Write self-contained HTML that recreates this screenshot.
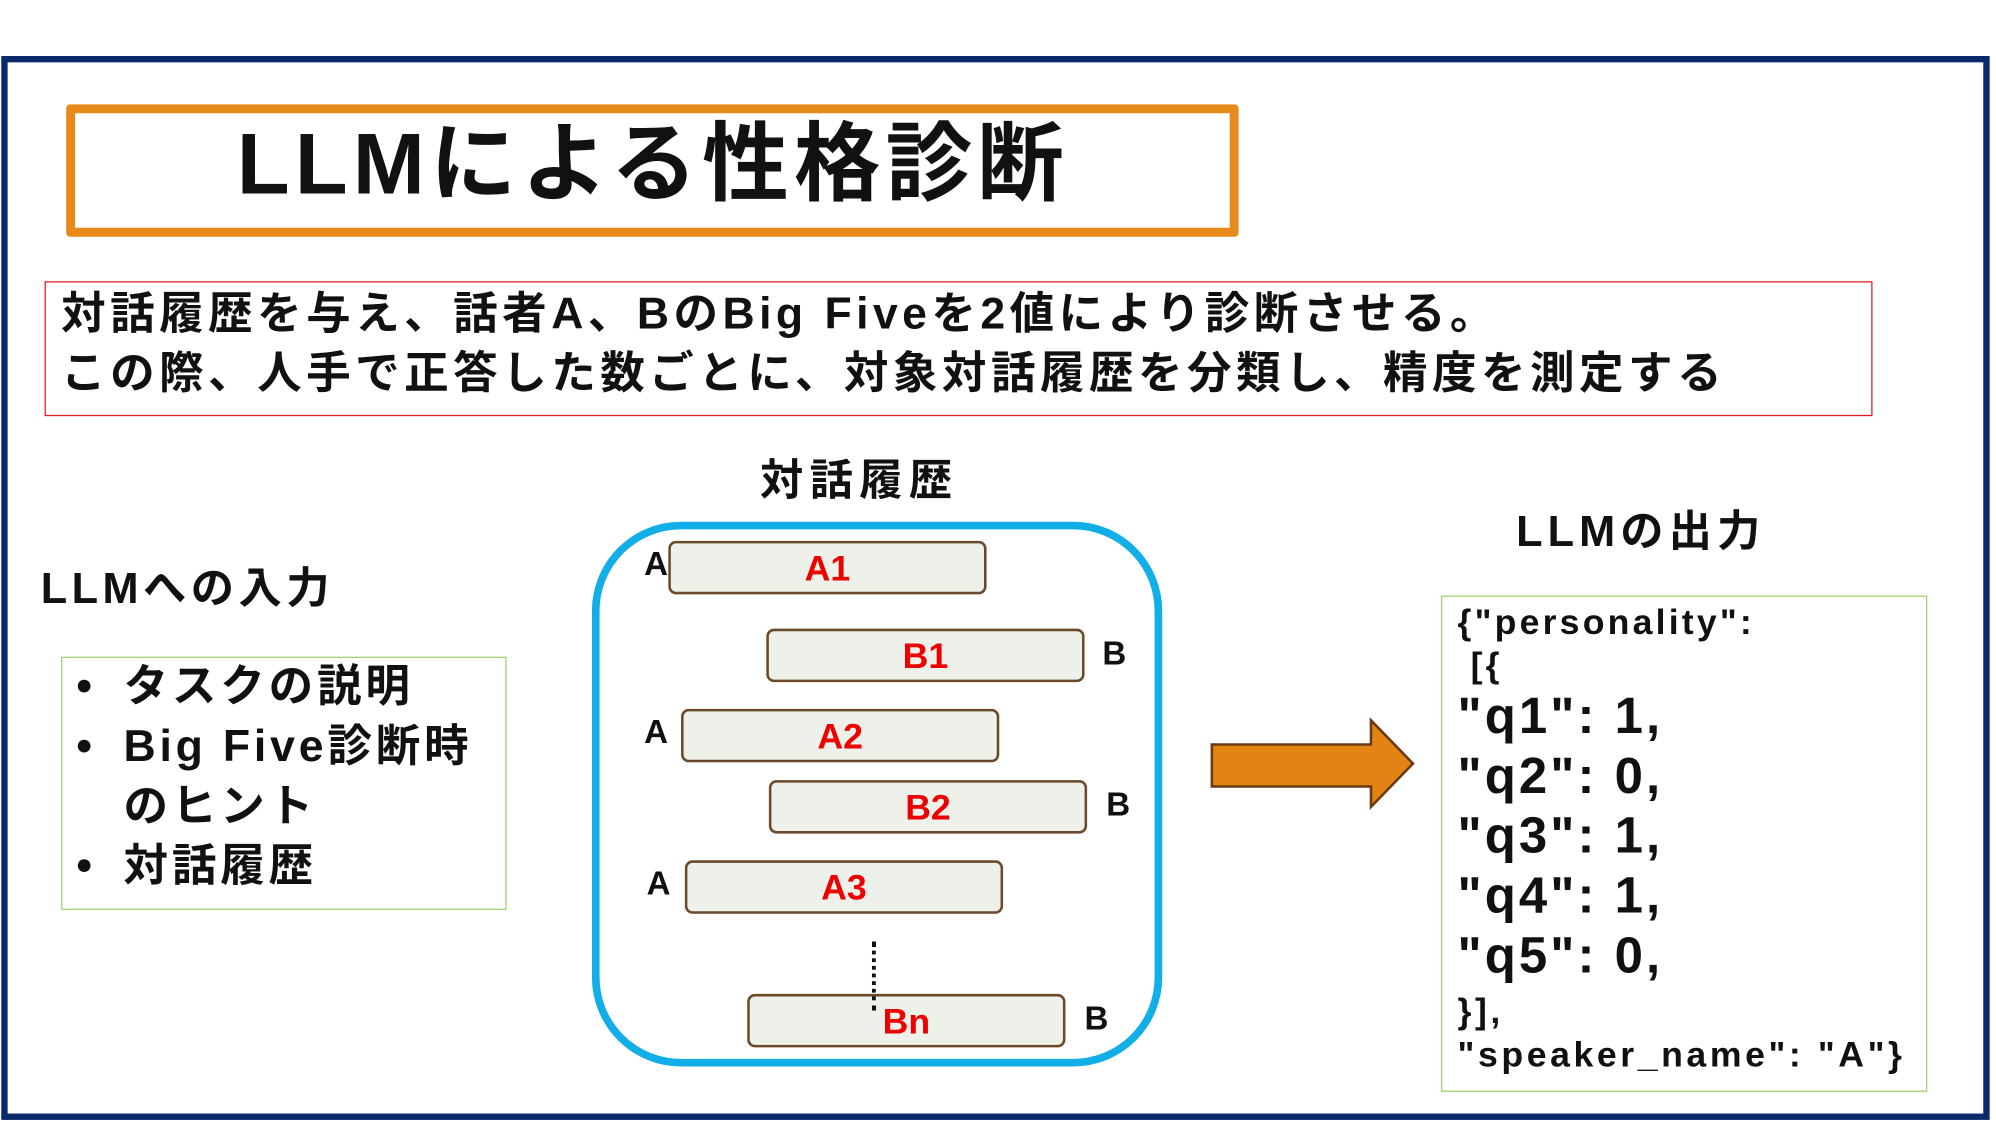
<!DOCTYPE html>
<html><head><meta charset="utf-8"><style>
html,body{margin:0;padding:0;background:#fff;width:1996px;height:1125px;overflow:hidden}
#s{position:absolute;left:0;top:0;width:1568px;height:884px;transform:scale(1.27296,1.27262);transform-origin:0 0;font-family:"Liberation Sans","Noto Sans CJK JP",sans-serif;font-weight:bold;color:#111}
.a{position:absolute;white-space:nowrap}
.bar{position:absolute;width:250px;height:42px;background:#eef0ea;border:2px solid #6b4a2a;border-radius:6px;box-sizing:border-box;color:#e00;font-size:28px;text-align:center;line-height:40px}
.lab{position:absolute;font-size:26px}
.li{position:relative;padding-left:37px}
.li b{position:absolute;left:0;top:0}
</style></head><body><div id="s">
<div class="a" style="left:1px;top:44px;width:1562px;height:836px;border:5px solid #0a2a6b;box-sizing:border-box"></div>
<div class="a" style="left:52px;top:82px;width:921px;height:104px;border:7px solid #e8891c;border-radius:3px;box-sizing:border-box"></div>
<div class="a" style="left:186px;top:84px;font-size:68px;line-height:90px;letter-spacing:4px">LLMによる性格診断</div>
<div class="a" style="left:35px;top:221px;width:1436px;height:106px;border:1px solid #e02020;box-sizing:border-box"></div>
<div class="a" style="left:48px;top:223px;font-size:35px;line-height:47px;letter-spacing:3.5px">対話履歴を与え、話者A、BのBig Fiveを2値により診断させる。<br>この際、人手で正答した数ごとに、対象対話履歴を分類し、精度を測定する</div>
<div class="a" style="left:597px;top:358px;font-size:34px;line-height:40px;letter-spacing:5px">対話履歴</div>
<div class="a" style="left:465px;top:410px;width:448px;height:428px;border:6px solid #12aee8;border-radius:70px;box-sizing:border-box"></div>
<div class="bar" style="left:525px;top:425px">A1</div>
<div class="bar" style="left:602px;top:494px">B1</div>
<div class="bar" style="left:535px;top:557px">A2</div>
<div class="bar" style="left:604px;top:613px">B2</div>
<div class="bar" style="left:538px;top:676px">A3</div>
<div class="bar" style="left:587px;top:781px">Bn</div>
<div class="lab" style="left:506px;top:428px">A</div>
<div class="lab" style="left:866px;top:498px">B</div>
<div class="lab" style="left:506px;top:560px">A</div>
<div class="lab" style="left:869px;top:617px">B</div>
<div class="lab" style="left:508px;top:679px">A</div>
<div class="lab" style="left:852px;top:785px">B</div>
<div class="a" style="left:685px;top:740px;height:54px;border-left:3px dotted #111"></div>
<div class="a" style="left:32px;top:443px;font-size:34px;line-height:40px;letter-spacing:3.5px">LLMへの入力</div>
<div class="a" style="left:48px;top:516px;width:350px;height:199px;border:1px solid #9bd36b;box-sizing:border-box"></div>
<div class="a" style="left:60px;top:516px;font-size:35px;line-height:47px;letter-spacing:3px">
<div class="li"><b>•</b>タスクの説明</div>
<div class="li"><b>•</b>Big Five診断時</div>
<div class="li">のヒント</div>
<div class="li"><b>•</b>対話履歴</div>
</div>
<svg class="a" style="left:0;top:0" width="1568" height="884"><polygon points="952,585 1077,585 1077,566 1110,600 1077,634 1077,618 952,618" fill="#e38313" stroke="#6b3a10" stroke-width="2"/></svg>
<div class="a" style="left:1191px;top:398px;font-size:34px;line-height:40px;letter-spacing:4px">LLMの出力</div>
<div class="a" style="left:1132px;top:468px;width:382px;height:390px;border:1px solid #9bd36b;box-sizing:border-box"></div>
<div class="a" style="left:1145px;top:472px;font-size:28px;line-height:34px;letter-spacing:2.5px">{"personality":<br>&nbsp;[{</div>
<div class="a" style="left:1145px;top:540px;font-size:40px;line-height:47px;letter-spacing:2.4px">"q1": 1,<br>"q2": 0,<br>"q3": 1,<br>"q4": 1,<br>"q5": 0,</div>
<div class="a" style="left:1145px;top:778px;font-size:28px;line-height:34px;letter-spacing:2.8px">}],<br>"speaker_name": "A"}</div>
</div></body></html>
